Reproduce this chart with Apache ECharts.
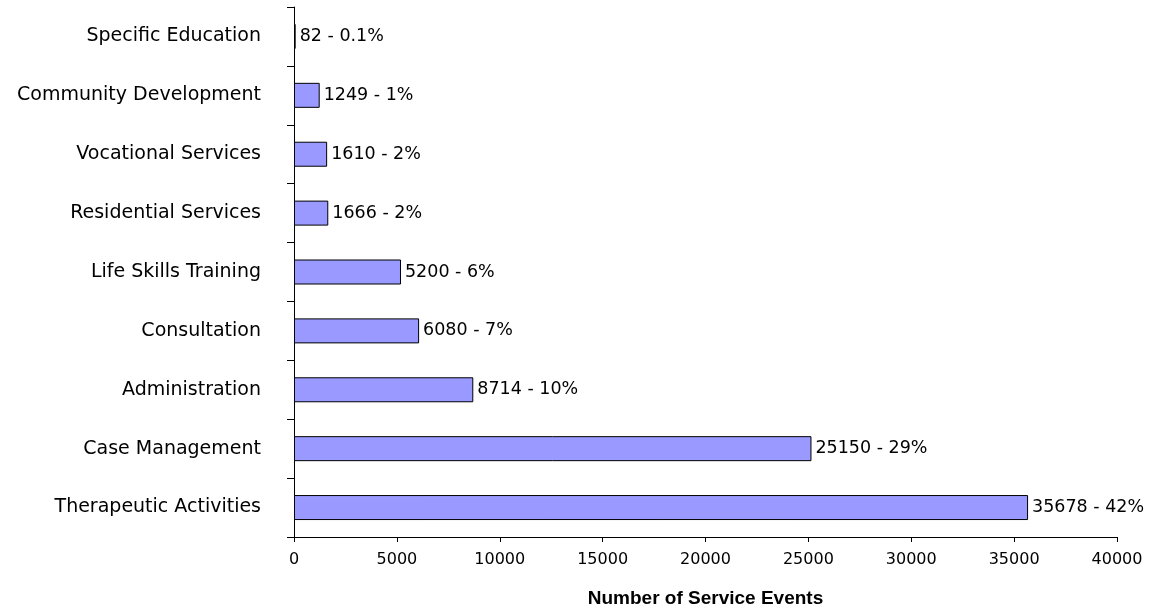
<!DOCTYPE html>
<html>
<head>
<meta charset="utf-8">
<script src="https://cdn.jsdelivr.net/npm/echarts@6/dist/echarts.min.js"></script>
<style>
  html, body { margin: 0; padding: 0; background: #fff; }
  #chart { width: 1156px; height: 614px; }
</style>
</head>
<body>
<div id="chart"></div>
<script>
// categories, top to bottom as in the picture
var categories = ['Specific Education', 'Community Development', 'Vocational Services',
  'Residential Services', 'Life Skills Training', 'Consultation',
  'Administration', 'Case Management', 'Therapeutic Activities'];
var events = [82, 1249, 1610, 1666, 5200, 6080, 8714, 25150, 35678];
var percents = ['0.1', '1', '2', '2', '6', '7', '10', '29', '42'];
var xTicks = [0, 5000, 10000, 15000, 20000, 25000, 30000, 35000, 40000];

var chart = echarts.init(document.getElementById('chart'));
var option = {
  animation: false,
  backgroundColor: '#fff',
  grid: { left: 294, right: 39, top: 7, bottom: 77 },
  xAxis: {
    type: 'value',
    min: xTicks[0],
    max: xTicks[xTicks.length - 1],
    interval: xTicks[1] - xTicks[0],
    name: 'Number of Service Events',
    nameLocation: 'middle',
    nameGap: 52,
    nameTextStyle: {
      fontFamily: '"Liberation Sans", Arial, sans-serif',
      fontWeight: 'bold',
      fontSize: 19,
      color: '#000'
    },
    splitLine: { show: false },
    axisLine: { show: true, lineStyle: { color: '#000', width: 1 } },
    axisTick: { show: true, length: 5, lineStyle: { color: '#000' } },
    axisLabel: {
      margin: 15,
      fontFamily: '"DejaVu Sans", sans-serif',
      fontSize: 16,
      color: '#000',
      formatter: function (v) { return String(v); }
    }
  },
  yAxis: {
    type: 'category',
    data: categories,
    inverse: true,
    axisLine: { show: true, lineStyle: { color: '#000', width: 1 } },
    axisTick: { show: true, length: 7, lineStyle: { color: '#000' } },
    axisLabel: {
      margin: 33,
      fontFamily: '"DejaVu Sans", sans-serif',
      fontSize: 19,
      color: '#000'
    }
  },
  series: [{
    type: 'bar',
    data: events,
    barWidth: 25,
    itemStyle: { color: '#9999FF', borderColor: '#000', borderWidth: 1 },
    label: {
      show: true,
      position: 'right',
      distance: 4,
      fontFamily: '"DejaVu Sans", sans-serif',
      fontSize: 17.5,
      color: '#000',
      formatter: function (p) {
        return p.value + ' - ' + percents[p.dataIndex] + '%';
      }
    }
  }]
};
chart.setOption(option);
</script>
</body>
</html>
